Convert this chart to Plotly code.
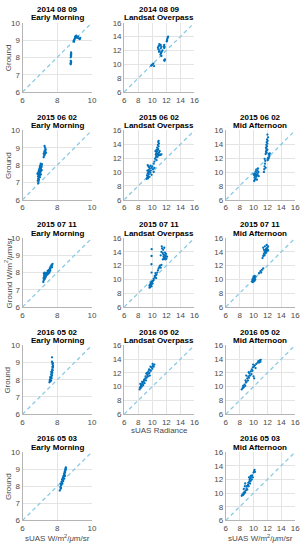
import plotly.graph_objects as go

# ---------------- data ----------------
# 2014 08 09 Early Morning
em140809_x = [8.78, 8.79, 8.80, 8.78, 8.80, 8.77, 8.78, 8.80, 8.79, 8.81, 8.80, 8.79,
              8.95, 8.98, 9.00, 9.02, 9.05, 9.08, 9.10, 9.12, 9.15, 9.20, 9.25, 9.30, 9.33, 8.97, 9.03]
em140809_y = [7.60, 7.68, 7.75, 7.80, 7.72, 7.65, 8.00, 8.08, 8.15, 8.20, 8.28, 8.12,
              8.95, 9.00, 9.05, 9.10, 9.15, 9.22, 9.25, 9.18, 9.12, 9.20, 9.10, 9.05, 9.12, 8.90, 9.20]
# 2014 08 09 Landsat Overpass
lo140809_x = [10.8, 10.9, 10.85, 11.0, 11.1, 11.0, 10.95, 11.2, 11.3, 11.2, 11.15, 11.25, 11.35, 11.45,
              11.3, 11.2, 11.65, 11.7, 11.75, 11.7, 12.05, 12.1, 12.15, 12.2, 12.25, 12.1, 11.7, 11.8,
              11.75, 9.85, 9.95, 10.05, 10.15, 10.25]
lo140809_y = [12.4, 12.6, 12.2, 12.9, 12.7, 12.0, 11.8, 12.8, 12.5, 12.3, 11.4, 11.6, 11.8, 12.0,
              11.2, 11.7, 12.6, 12.8, 12.5, 12.35, 13.3, 13.5, 13.7, 13.9, 14.0, 13.4, 10.6, 10.7,
              10.5, 9.8, 9.9, 10.0, 10.1, 9.75]
# 2015 06 02 Early Morning
em150602_x = [6.90, 6.92, 6.88, 6.95, 6.90, 6.93, 6.97, 6.89, 6.95, 7.00, 6.92, 6.98, 7.02, 6.90, 6.95,
              7.00, 7.05, 6.93, 6.98, 7.03, 7.08, 6.96, 7.01, 7.06, 6.99, 7.04, 7.09, 7.00, 7.05, 7.10,
              7.02, 7.07, 7.12, 7.05, 7.00, 7.06, 6.86, 7.10,
              7.22, 7.25, 7.28, 7.30, 7.25, 7.32, 7.28, 7.34, 7.30, 7.27, 7.22, 7.35]
em150602_y = [6.95, 7.05, 7.10, 7.15, 7.20, 7.25, 7.30, 7.35, 7.40, 7.42, 7.45, 7.50, 7.52, 7.55, 7.58,
              7.60, 7.62, 7.65, 7.68, 7.70, 7.72, 7.75, 7.78, 7.80, 7.82, 7.85, 7.88, 7.90, 7.92, 7.95,
              7.98, 8.00, 8.05, 8.08, 7.30, 7.45, 7.50, 7.70,
              8.45, 8.55, 8.60, 8.70, 8.75, 8.80, 8.85, 8.90, 9.00, 9.10, 8.65, 8.70]
# 2015 06 02 Landsat Overpass
lo150602_x = [9.2, 9.3, 9.25, 9.4, 9.5, 9.35, 9.45, 9.6, 9.3, 9.5, 9.7, 9.8, 9.65, 9.9, 9.55, 9.75, 10.0,
              10.1, 9.9, 10.2, 9.4, 9.6, 10.3, 9.45, 9.35,
              10.4, 10.5, 10.6, 10.7, 10.55, 10.8, 10.9, 11.0, 11.1, 11.2, 11.3, 10.65, 10.75, 10.85,
              10.7, 10.9, 10.8, 10.95, 10.85, 10.9, 10.6, 10.5, 10.3, 10.2, 10.45, 11.05, 10.95, 10.75, 10.6]
lo150602_y = [9.0, 9.2, 9.5, 9.4, 9.7, 9.8, 10.0, 10.1, 10.2, 10.3, 9.9, 10.2, 10.5, 10.6, 10.7, 10.9, 10.8,
              10.4, 9.6, 10.0, 9.1, 9.3, 10.6, 10.8, 11.0,
              11.9, 12.1, 12.3, 12.5, 12.7, 12.6, 12.4, 12.5, 12.45, 12.5, 12.55, 12.9, 13.1, 13.3,
              13.5, 13.7, 13.9, 14.1, 14.3, 14.5, 13.2, 12.5, 11.5, 11.2, 13.0, 13.0, 12.8, 12.2, 11.7]
# 2015 06 02 Mid Afternoon
ma150602_x = [10.1, 10.2, 10.3, 10.15, 10.4, 10.25, 10.5, 10.35, 10.6, 10.2, 10.45, 10.7, 10.3, 10.55,
              10.4, 10.65, 10.1, 10.75, 10.5, 10.0,
              11.5, 11.55, 11.6, 11.65, 11.7, 11.6, 11.75,
              11.75, 11.8, 11.85, 11.9, 11.8, 11.95, 11.85, 12.0, 11.9, 12.05, 11.95, 12.1, 12.0, 11.9, 12.0,
              12.05, 12.15, 12.2, 12.3, 12.25, 12.35, 12.1, 12.2]
ma150602_y = [8.7, 8.9, 9.0, 9.2, 9.3, 9.4, 9.5, 9.6, 9.7, 9.8, 9.9, 10.0, 10.1, 10.2,
              10.35, 10.5, 9.55, 9.4, 8.9, 9.7,
              10.0, 10.4, 10.8, 11.2, 11.6, 11.9, 10.6,
              12.6, 12.9, 13.1, 13.3, 13.5, 13.7, 13.9, 14.1, 14.3, 14.5, 14.7, 15.0, 15.4, 12.8, 13.2,
              11.7, 11.9, 12.1, 12.3, 12.5, 12.7, 12.0, 12.6]
# 2015 07 11 Early Morning
em150711_x = [7.20, 7.22, 7.25, 7.21, 7.27, 7.24, 7.30, 7.26, 7.32, 7.28, 7.35, 7.30, 7.23, 7.40, 7.45,
              7.42, 7.50, 7.48, 7.55, 7.52, 7.60, 7.58, 7.65, 7.62, 7.70, 7.68, 7.73, 7.55, 7.60, 7.70,
              7.45, 7.38]
em150711_y = [7.45, 7.55, 7.60, 7.68, 7.72, 7.80, 7.85, 7.90, 7.95, 8.00, 7.75, 7.65, 7.95, 7.85, 7.90,
              8.00, 7.95, 8.05, 8.10, 8.15, 8.20, 8.25, 8.30, 8.35, 8.40, 8.45, 8.50, 8.00, 8.10, 8.30,
              8.10, 7.95]
# 2015 07 11 Landsat Overpass
lo150711_x = [9.6, 9.7, 9.65, 9.8, 9.7, 9.75, 9.9, 9.8, 9.85, 10.0, 9.95, 10.1, 9.6, 9.9, 10.05, 10.2,
              10.2, 10.4, 10.5, 10.45, 10.6, 10.7, 10.8, 10.9, 11.0, 11.1, 11.2, 11.3, 10.35, 10.55,
              9.9, 9.88, 9.9, 9.91,
              11.2, 11.3, 11.4, 11.35, 11.5, 11.6, 11.65, 11.7, 11.75, 11.8, 11.85, 11.9, 11.95, 12.0,
              11.55, 11.7, 11.6, 11.8, 12.1, 11.5]
lo150711_y = [8.8, 8.9, 9.0, 9.1, 9.2, 9.3, 9.35, 9.45, 9.6, 9.7, 9.5, 9.8, 9.15, 9.0, 9.4, 9.9,
              10.1, 10.3, 10.6, 10.9, 10.7, 11.0, 11.3, 11.6, 11.8, 12.0, 11.7, 12.1, 10.5, 10.2,
              11.0, 12.2, 13.4, 14.4,
              13.5, 14.0, 14.5, 14.8, 13.8, 13.3, 13.0, 13.2, 13.5, 13.1, 12.9, 13.4, 13.7, 13.0,
              14.3, 14.6, 13.6, 13.9, 13.3, 12.9]
# 2015 07 11 Mid Afternoon
ma150711_x = [9.8, 9.9, 10.0, 9.85, 10.1, 9.95, 10.2, 10.05, 10.3, 10.15, 9.9, 10.1, 10.0, 10.25,
              10.8, 11.0, 11.2, 11.4, 11.1,
              11.3, 11.4, 11.5, 11.6, 11.7, 11.8, 11.9, 12.0, 12.1, 11.75, 11.85, 11.95, 12.05, 11.6,
              11.5, 11.4, 12.1, 11.9, 11.65]
ma150711_y = [9.7, 9.8, 9.9, 10.0, 10.05, 10.15, 10.2, 10.3, 10.4, 10.5, 9.6, 9.75, 10.4, 9.95,
              10.9, 11.2, 11.4, 11.6, 11.0,
              13.1, 13.4, 13.7, 14.0, 14.2, 14.4, 14.5, 14.6, 14.8, 13.8, 14.0, 14.2, 14.3, 13.5,
              14.3, 14.6, 14.2, 15.0, 14.8]
# 2016 05 02 Early Morning
em160502_x = [7.55, 7.60, 7.58, 7.65, 7.62, 7.68, 7.60, 7.66, 7.70, 7.68, 7.72, 7.70, 7.74, 7.71, 7.75,
              7.72, 7.76, 7.73, 7.75, 7.72, 7.70, 7.70, 7.65, 7.66, 7.57]
em160502_y = [7.85, 7.90, 8.00, 7.95, 8.05, 8.10, 8.15, 8.20, 8.25, 8.35, 8.40, 8.50, 8.55, 8.60, 8.70,
              8.75, 8.80, 8.90, 8.95, 9.00, 9.05, 9.30, 8.30, 8.45, 7.95]
# 2016 05 02 Landsat Overpass
lo160502_x = [8.2, 8.25, 8.35, 8.4, 8.5, 8.45, 8.6, 8.7, 8.65, 8.8, 8.9, 8.85, 9.0, 9.1, 9.05, 9.2, 9.3,
              9.25, 9.4, 9.5, 9.45, 9.6, 9.7, 9.65, 9.8, 9.9, 10.0, 10.1, 10.2, 10.3, 9.75, 9.55, 8.55,
              8.3, 9.15, 10.05]
lo160502_y = [9.6, 9.9, 9.8, 10.1, 10.0, 10.3, 10.4, 10.2, 10.6, 10.8, 10.5, 11.0, 11.2, 10.9, 11.5,
              11.3, 11.7, 12.0, 11.5, 11.9, 12.2, 12.0, 12.4, 11.6, 12.3, 12.8, 12.6, 13.0, 12.9, 13.2,
              12.9, 12.5, 10.7, 10.4, 11.9, 13.3]
# 2016 05 02 Mid Afternoon
ma160502_x = [8.3, 8.45, 8.5, 8.6, 8.7, 8.8, 8.9, 8.85, 9.0, 9.1, 9.2, 9.25, 9.35, 9.4, 9.5, 9.6, 9.7,
              9.75, 9.85, 9.9, 10.0, 10.1, 10.05, 10.2, 10.3, 10.4, 10.6, 10.7, 10.8, 10.9, 11.0, 11.05,
              9.3, 9.95, 8.95]
ma160502_y = [9.6, 9.8, 10.1, 9.9, 10.3, 10.1, 10.6, 10.9, 10.7, 11.2, 10.9, 11.5, 11.3, 11.9, 11.6,
              12.2, 11.8, 12.5, 12.3, 12.8, 11.5, 11.2, 12.9, 13.1, 12.7, 13.3, 13.5, 13.7, 13.5, 13.8,
              13.6, 13.9, 12.1, 13.2, 11.6]
# 2016 05 03 Early Morning
em160503_x = [8.15, 8.20, 8.18, 8.22, 8.25, 8.20, 8.28, 8.25, 8.30, 8.32, 8.28, 8.35, 8.33, 8.38, 8.36,
              8.40, 8.42, 8.40, 8.45, 8.43, 8.47, 8.46, 8.50, 8.48, 8.50, 8.35, 8.40, 8.30, 8.45, 8.22]
em160503_y = [7.75, 7.85, 7.95, 8.05, 8.10, 8.15, 8.20, 8.25, 8.30, 8.35, 8.40, 8.45, 8.50, 8.55, 8.60,
              8.65, 8.70, 8.75, 8.80, 8.85, 8.90, 8.95, 9.00, 9.05, 9.10, 8.30, 8.45, 8.15, 8.60, 7.90]
# 2016 05 03 Mid Afternoon
ma160503_x = [8.3, 8.4, 8.5, 8.55, 8.65, 8.7, 8.8, 8.6, 8.75, 8.9, 9.0, 9.05, 9.1, 9.2, 9.25, 9.3, 9.4,
              9.45, 9.5, 9.55, 9.6, 9.7, 9.75, 9.8, 9.9, 10.0, 10.1, 10.15, 10.2, 8.8, 9.35, 9.6]
ma160503_y = [9.6, 9.8, 9.7, 10.0, 9.9, 10.2, 10.1, 10.6, 11.0, 10.4, 10.7, 11.0, 10.5, 11.2, 11.5,
              11.0, 11.7, 12.0, 11.4, 12.2, 11.8, 12.4, 12.0, 12.6, 12.3, 13.0, 13.2, 13.4, 13.1, 11.4,
              12.3, 12.5]

dates = ["2014 08 09", "2015 06 02", "2015 07 11", "2016 05 02", "2016 05 03"]
times = ["Early Morning", "Landsat Overpass", "Mid Afternoon"]
small_ticks = [6, 7, 8, 9, 10]
small_xticks = [6, 8, 10]
big_ticks = [6, 8, 10, 12, 14, 16]

# (row, col, x, y)
panels = [
    (1, 1, em140809_x, em140809_y), (1, 2, lo140809_x, lo140809_y),
    (2, 1, em150602_x, em150602_y), (2, 2, lo150602_x, lo150602_y), (2, 3, ma150602_x, ma150602_y),
    (3, 1, em150711_x, em150711_y), (3, 2, lo150711_x, lo150711_y), (3, 3, ma150711_x, ma150711_y),
    (4, 1, em160502_x, em160502_y), (4, 2, lo160502_x, lo160502_y), (4, 3, ma160502_x, ma160502_y),
    (5, 1, em160503_x, em160503_y), (5, 3, ma160503_x, ma160503_y),
]

# ---------------- layout geometry ----------------
W, H = 306, 550
col_px = {1: (21, 92), 2: (125, 197), 3: (229, 300)}
row_px = {1: (19, 89.5), 2: (128.5, 199), 3: (238, 308), 4: (347, 417), 5: (455.5, 525)}

FONT = "Liberation Sans, Arial, sans-serif"
TICKCOL = "#4a4a4a"
POINT = "#0072BD"
ONE2ONE = "#8ccae4"

fig = go.Figure()
layout = dict(width=W, height=H, margin=dict(l=0, r=0, t=0, b=0),
              paper_bgcolor="white", plot_bgcolor="white", showlegend=False,
              font=dict(family=FONT, size=8, color=TICKCOL))
annotations = []

for k, (r, c, xs, ys) in enumerate(panels, start=1):
    xa = "xaxis" if k == 1 else f"xaxis{k}"
    ya = "yaxis" if k == 1 else f"yaxis{k}"
    xr = "x" if k == 1 else f"x{k}"
    yr = "y" if k == 1 else f"y{k}"
    x0, x1 = col_px[c]
    t0, t1 = row_px[r]
    lo, hi = (6, 10) if c == 1 else (6, 16)
    fig.add_trace(go.Scatter(x=[lo, hi], y=[lo, hi], xaxis=xr, yaxis=yr, mode="lines",
                             line=dict(color=ONE2ONE, width=1.3, dash="4px,3px"),
                             hoverinfo="skip"))
    fig.add_trace(go.Scatter(x=xs, y=ys, xaxis=xr, yaxis=yr, mode="markers",
                             marker=dict(color=POINT, size=2.3, line=dict(width=0))))
    common = dict(showgrid=True, gridcolor="#e4e4e4", gridwidth=1, zeroline=False,
                  showline=True, linecolor="#b5b5b5", linewidth=1, mirror=False,
                  ticks="", tickfont=dict(family=FONT, size=8, color=TICKCOL),
                  ticklabeloverflow="allow", fixedrange=True)
    layout[xa] = dict(common, domain=[x0 / W, x1 / W], range=[lo, hi], anchor=yr,
                      tickvals=small_xticks if c == 1 else big_ticks)
    layout[ya] = dict(common, domain=[1 - t1 / H, 1 - t0 / H], range=[lo, hi], anchor=xr,
                      tickvals=small_ticks if c == 1 else big_ticks)
    cx = (x0 + x1) / 2 / W
    annotations.append(dict(x=cx, y=1 - (t0 - 13.5) / H, xref="paper", yref="paper",
                            text=f"<b>{dates[r - 1]}</b>", showarrow=False,
                            font=dict(family=FONT, size=8, color="black"),
                            xanchor="center", yanchor="middle"))
    annotations.append(dict(x=cx, y=1 - (t0 - 5) / H, xref="paper", yref="paper",
                            text=f"<b>{times[c - 1]}</b>", showarrow=False,
                            font=dict(family=FONT, size=8, color="black"),
                            xanchor="center", yanchor="middle"))

# y-axis titles
for r in range(1, 6):
    t0, t1 = row_px[r]
    txt = "Ground W/m<sup>2</sup>/<i>μ</i>m/sr" if r == 3 else "Ground"
    annotations.append(dict(x=6 / W, y=1 - (t0 + t1) / 2 / H, xref="paper", yref="paper",
                            text=txt, textangle=-90, showarrow=False,
                            font=dict(family=FONT, size=8, color=TICKCOL),
                            xanchor="center", yanchor="middle"))
# x-axis titles
annotations.append(dict(x=(125 + 197) / 2 / W, y=1 - 433.5 / H, xref="paper", yref="paper",
                        text="sUAS Radiance", showarrow=False,
                        font=dict(family=FONT, size=8, color=TICKCOL),
                        xanchor="center", yanchor="middle"))
for c in (1, 3):
    x0, x1 = col_px[c]
    annotations.append(dict(x=(x0 + x1) / 2 / W, y=1 - 542.5 / H, xref="paper", yref="paper",
                            text="sUAS W/m<sup>2</sup>/<i>μ</i>m/sr", showarrow=False,
                            font=dict(family=FONT, size=8, color=TICKCOL),
                            xanchor="center", yanchor="middle"))

layout["annotations"] = annotations
fig.update_layout(**layout)
fig.write_html("out.html", config={"displayModeBar": False},
               post_script="document.body.style.margin='0';document.body.style.overflow='hidden';")
